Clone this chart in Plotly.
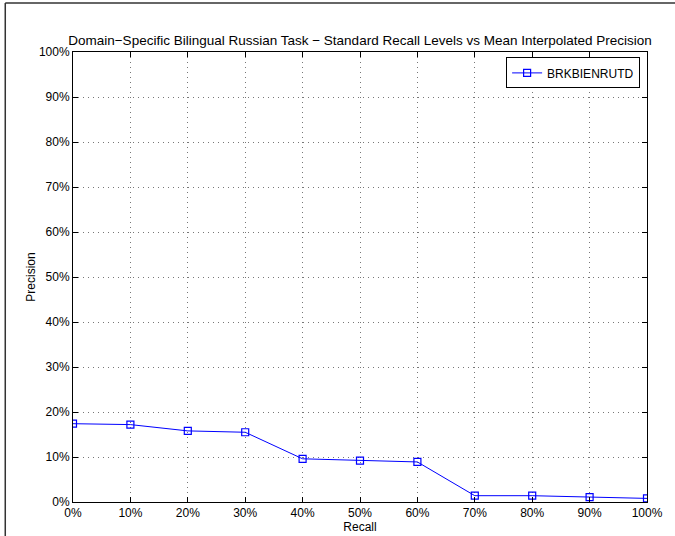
import plotly.graph_objects as go

# Standard recall levels (%) and mean interpolated precision (%)
recall = [0, 10, 20, 30, 40, 50, 60, 70, 80, 90, 100]
precision = [17.4, 17.2, 15.8, 15.5, 9.6, 9.2, 8.9, 1.4, 1.4, 1.1, 0.8]
run_name = "BRKBIENRUTD"
tick_vals = [0, 10, 20, 30, 40, 50, 60, 70, 80, 90, 100]
tick_text = [f"{v}%" for v in tick_vals]

title = ("Domain\u2212Specific Bilingual Russian Task \u2212 "
         "Standard Recall Levels vs Mean Interpolated Precision")

fig = go.Figure()
fig.add_trace(go.Scatter(
    x=recall, y=precision, mode="lines+markers", name=run_name,
    line=dict(color="#0000ff", width=1),
    marker=dict(symbol="square-open", size=7, color="#0000ff",
                line=dict(width=1.2, color="#0000ff")),
))

axis_common = dict(
    range=[0, 100], tickvals=tick_vals, ticktext=tick_text,
    showline=True, linecolor="black", linewidth=1, mirror="ticks",
    ticks="inside", ticklen=5, tickcolor="black", tickwidth=1,
    showgrid=True, gridcolor="#777777", griddash="1px,4px", gridwidth=1,
    zeroline=False, tickfont=dict(size=12, color="black"),
    automargin=False,
)

fig.update_layout(
    width=675, height=536,
    margin=dict(l=73, r=28, t=52, b=34),
    paper_bgcolor="white", plot_bgcolor="white",
    font=dict(family="Liberation Sans, Arial, sans-serif", color="black", size=12),
    title=dict(text=title, x=0.5, xref="paper", y=1, yref="paper",
               yanchor="bottom", pad=dict(b=7), font=dict(size=13.5),
               automargin=False),
    xaxis=dict(title=dict(text="Recall", standoff=0, font=dict(size=12)), **axis_common),
    yaxis=dict(title=dict(text="Precision", standoff=0, font=dict(size=12)), **axis_common),
    legend=dict(x=0.988, y=0.988, xanchor="right", yanchor="top",
                bgcolor="white", bordercolor="black", borderwidth=1,
                font=dict(size=12), itemwidth=30, tracegroupgap=0),
    showlegend=True,
    shapes=[
        dict(type="line", xref="paper", yref="paper", x0=-0.118, x1=1.06,
             y0=1.109, y1=1.109, line=dict(color="#333333", width=1.5)),
        dict(type="line", xref="paper", yref="paper", x0=-0.118, x1=-0.118,
             y0=1.109, y1=-0.08, line=dict(color="#333333", width=1.5)),
    ],
)

fig.write_html("out.html")
